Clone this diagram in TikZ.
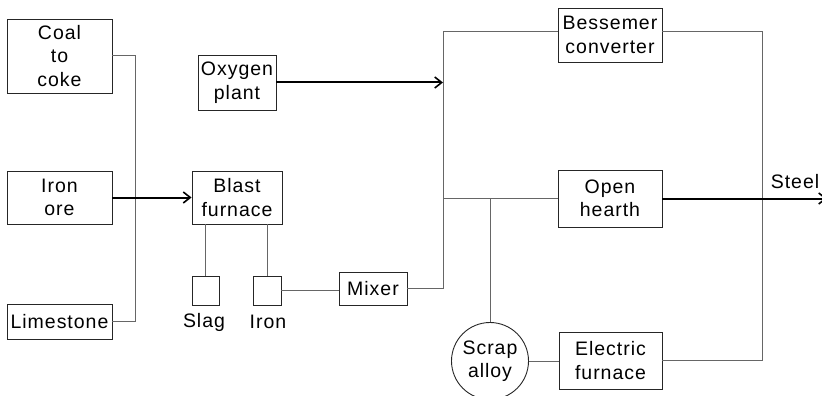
\documentclass[tikz,border=0pt]{standalone}
\usepackage{fontspec}
\setmainfont{Liberation Sans}[LetterSpace=5]
\usetikzlibrary{arrows.meta}
\begin{document}
\begin{tikzpicture}[x=1pt,y=-1pt,
  box/.style={draw=black!85,line width=0.9pt,rectangle,inner sep=0pt,align=center,
    font=\fontsize{19.5}{23.5}\selectfont},
  lbl/.style={inner sep=0pt,font=\fontsize{19.5}{23.5}\selectfont},
  conn/.style={draw=black!60,line width=1pt},
  flow/.style={draw=black,line width=2pt,-{Straight Barb[length=7pt,width=11pt,line width=1.6pt]}}]
\useasboundingbox (0,0) rectangle (822,396);
\node[box,minimum width=105pt,minimum height=74pt] (coal) at (59.5,56) {Coal\\to\\coke};
\node[box,minimum width=78pt,minimum height=55pt] (oxy) at (237,82.5) {Oxygen\\plant};
\node[box,minimum width=105pt,minimum height=53pt] (ore) at (59.5,197.5) {Iron\\ore};
\node[box,minimum width=90pt,minimum height=53pt] (blast) at (237,197.5) {Blast\\furnace};
\node[box,minimum width=105pt,minimum height=35pt] (lime) at (59.5,321.5) {Limestone};
\node[box,minimum width=27pt,minimum height=29pt] (slag) at (205.5,290.5) {};
\node[box,minimum width=28pt,minimum height=29pt] (ironsq) at (267,290.5) {};
\node[lbl] (slaglbl) at (204,322) {Slag};
\node[lbl] (ironlbl) at (268,322) {Iron};
\node[box,minimum width=68pt,minimum height=33pt] (mixer) at (373,288.5) {Mixer};
\node[box,minimum width=104pt,minimum height=54pt] (bess) at (610,35) {Bessemer\\converter};
\node[box,minimum width=104pt,minimum height=57pt] (open) at (610,198.5) {Open\\hearth};
\node[box,minimum width=103pt,minimum height=57pt] (elec) at (610.5,360.5) {Electric\\furnace};
\node[box,circle,minimum size=77pt] (scrap) at (490,361) {Scrap\\alloy};
\node[lbl] (steel) at (795,182) {Steel};
\coordinate (bus) at (135,0);
\coordinate (vx) at (443,0);
\coordinate (rx) at (762,0);
\coordinate (jx) at (490,0);
\coordinate (out) at (827,198.5);
% left bus
\draw[conn] (coal.east) -- (coal.east -| bus) -- (lime.east -| bus) -- (lime.east);
\draw[flow] (ore.east) -- (blast.west);
\draw[conn] (slag.north) -- (slag.north |- blast.south);
\draw[conn] (ironsq.north) -- (ironsq.north |- blast.south);
\draw[conn] (ironsq.east) -- (ironsq.east -| mixer.west);
% middle bus
\draw[conn] (mixer.east) -- (mixer.east -| vx) -- ([yshift=3pt]bess.west -| vx) -- ([yshift=3pt]bess.west);
\draw[flow] (oxy.east) -- (oxy.east -| vx);
\draw[conn] (open.west -| vx) -- (open.west);
\draw[conn] (open.west -| jx) -- (scrap.north);
\draw[conn] (scrap.east) -- (scrap.east -| elec.west);
% right bus
\draw[conn] ([yshift=3pt]bess.east) -- ([yshift=3pt]bess.east -| rx) -- (elec.east -| rx) -- (elec.east);
\draw[flow] (open.east) -- (out);
\end{tikzpicture}
\end{document}
